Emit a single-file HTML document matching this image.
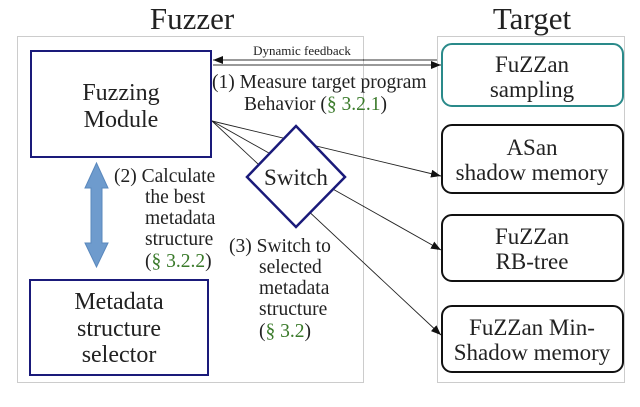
<!DOCTYPE html>
<html><head><style>
html,body{margin:0;padding:0;background:#fff;}
svg text{font-family:"Liberation Serif",serif;fill:#222;}
</style></head><body>
<svg width="640" height="402" viewBox="0 0 640 402" xmlns="http://www.w3.org/2000/svg">
<defs>
<marker id="ah" markerWidth="10" markerHeight="8" refX="10" refY="4" orient="auto" markerUnits="userSpaceOnUse">
<path d="M0,0 L10,4 L0,8 Z" fill="#111"/></marker>
</defs>
<rect width="640" height="402" fill="#fff"/>
<text x="192" y="29" font-size="31" text-anchor="middle">Fuzzer</text>
<text x="532" y="29" font-size="31" text-anchor="middle">Target</text>
<rect x="17.5" y="36.5" width="346" height="346" fill="none" stroke="#999" stroke-dasharray="1,1"/>
<rect x="437.5" y="36.5" width="187" height="346" fill="none" stroke="#999" stroke-dasharray="1,1"/>
<line x1="437" y1="60" x2="213" y2="60" stroke="#333" stroke-width="1" marker-end="url(#ah)"/>
<line x1="213" y1="65" x2="441" y2="65" stroke="#333" stroke-width="1" marker-end="url(#ah)"/>
<text x="302" y="55" font-size="13" text-anchor="middle">Dynamic feedback</text>
<line x1="212" y1="121" x2="441" y2="176" stroke="#222" stroke-width="0.9" marker-end="url(#ah)"/>
<line x1="212" y1="121" x2="441" y2="250" stroke="#222" stroke-width="0.9" marker-end="url(#ah)"/>
<line x1="212" y1="121" x2="441" y2="335" stroke="#222" stroke-width="0.9" marker-end="url(#ah)"/>
<rect x="31" y="51" width="180" height="106" fill="#fff" stroke="#1a1a7a" stroke-width="2"/>
<text x="121" y="100" font-size="24" text-anchor="middle">Fuzzing</text>
<text x="121" y="127" font-size="24" text-anchor="middle">Module</text>
<rect x="30" y="280" width="178" height="95" fill="#fff" stroke="#1a1a7a" stroke-width="2"/>
<text x="119" y="309" font-size="24" text-anchor="middle">Metadata</text>
<text x="119" y="336" font-size="24" text-anchor="middle">structure</text>
<text x="119" y="362" font-size="24" text-anchor="middle">selector</text>
<path d="M296,126 L345,177 L296,227 L247,177 Z" fill="#fff" stroke="#1a1a7a" stroke-width="2.5"/>
<text x="296" y="185" font-size="23" text-anchor="middle">Switch</text>
<path d="M96.5,163 L108,188 L102,188 L102,243 L108,243 L96.5,267 L85,243 L91,243 L91,188 L85,188 Z" fill="#6e9bcd" stroke="#5a88bd" stroke-width="1"/>
<rect x="442" y="44" width="181" height="62" rx="10" fill="#fff" stroke="#2a8a8a" stroke-width="2"/>
<text x="532" y="72" font-size="23" text-anchor="middle">FuZZan</text>
<text x="532" y="97" font-size="23" text-anchor="middle">sampling</text>
<rect x="442" y="125" width="181" height="68" rx="10" fill="#fff" stroke="#111" stroke-width="2"/>
<text x="532" y="155" font-size="23" text-anchor="middle">ASan</text>
<text x="532" y="180" font-size="23" text-anchor="middle">shadow memory</text>
<rect x="442" y="215" width="181" height="66" rx="10" fill="#fff" stroke="#111" stroke-width="2"/>
<text x="532" y="244" font-size="23" text-anchor="middle">FuZZan</text>
<text x="532" y="269" font-size="23" text-anchor="middle">RB-tree</text>
<rect x="442" y="306" width="181" height="66" rx="10" fill="#fff" stroke="#111" stroke-width="2"/>
<text x="532" y="335" font-size="23" text-anchor="middle">FuZZan Min-</text>
<text x="532" y="360" font-size="23" text-anchor="middle">Shadow memory</text>
<text x="212" y="88" font-size="19.5">(1) Measure target program</text>
<text x="244" y="110" font-size="19.5">Behavior (<tspan fill="#3a7a2a">§ 3.2.1</tspan>)</text>
<text x="114" y="182" font-size="19.5">(2) Calculate</text>
<text x="145" y="203" font-size="19.5">the best</text>
<text x="145" y="224" font-size="19.5">metadata</text>
<text x="145" y="245" font-size="19.5">structure</text>
<text x="145" y="267" font-size="19.5">(<tspan fill="#3a7a2a">§ 3.2.2</tspan>)</text>
<text x="229" y="252" font-size="19.5">(3) Switch to</text>
<text x="259" y="273" font-size="19.5">selected</text>
<text x="259" y="294" font-size="19.5">metadata</text>
<text x="259" y="315" font-size="19.5">structure</text>
<text x="259" y="337" font-size="19.5">(<tspan fill="#3a7a2a">§ 3.2</tspan>)</text>
</svg>
</body></html>
